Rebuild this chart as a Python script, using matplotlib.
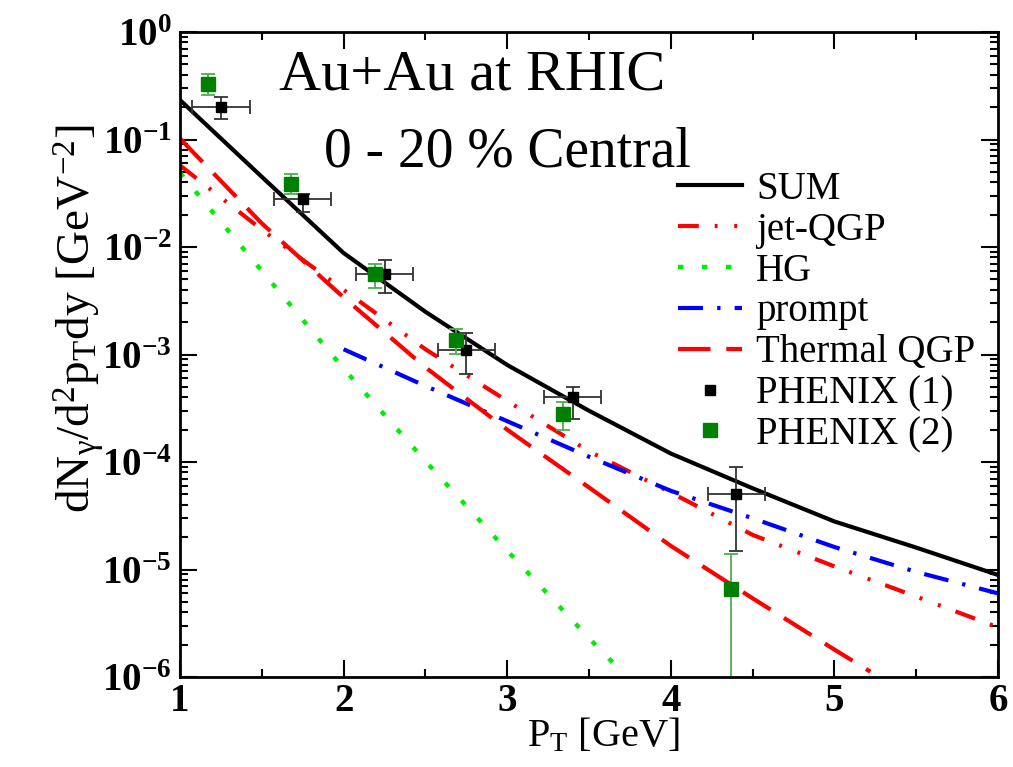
import matplotlib
matplotlib.use("Agg")
import matplotlib.pyplot as plt
from matplotlib.ticker import FixedLocator, FixedFormatter, LogLocator, NullFormatter
import numpy as np

plt.rcParams['font.family'] = ['Liberation Serif', 'DejaVu Serif']
plt.rcParams['mathtext.fontset'] = 'custom'
plt.rcParams['mathtext.rm'] = 'Liberation Serif'
plt.rcParams['mathtext.it'] = 'Liberation Serif:italic'
plt.rcParams['mathtext.bf'] = 'Liberation Serif:bold'

# model curves
x_sum = [1, 1.5, 2, 2.5, 3, 3.5, 4, 4.5, 5, 5.5, 6]
y_sum = [0.233, 0.045, 8.8e-3, 2.5e-3, 8.0e-4, 3.0e-4, 1.2e-4, 5.7e-5, 2.8e-5, 1.6e-5, 8.9e-6]

x_jet = [1, 1.5, 2, 2.5, 3, 3.5, 4, 4.5, 5, 5.5, 6]
y_jet = [0.0575, 0.0145, 4.0e-3, 1.12e-3, 3.7e-4, 1.26e-4, 5.2e-5, 2.1e-5, 1.07e-5, 5.6e-6, 2.9e-6]

x_hg = [1, 1.5, 2, 2.5, 3, 3.5, 3.66]
y_hg = [0.049, 6.0e-3, 7.4e-4, 1.02e-4, 1.5e-5, 2.3e-6, 1.29e-6]

x_prompt = [2, 2.5, 3, 3.5, 4, 4.5, 5, 5.5, 6]
y_prompt = [1.12e-3, 5.1e-4, 2.4e-4, 1.12e-4, 5.4e-5, 3.0e-5, 1.62e-5, 9.5e-6, 6.0e-6]

x_thermal = [1, 1.5, 2, 2.5, 3, 3.5, 4, 4.5, 5, 5.22]
y_thermal = [0.102, 0.0166, 3.4e-3, 7.6e-4, 2.0e-4, 5.8e-5, 1.66e-5, 5.4e-6, 1.8e-6, 1.12e-6]

# PHENIX data
x_ph1 = [1.25, 1.75, 2.25, 2.75, 3.40, 4.40]
y_ph1 = [0.20, 0.028, 5.6e-3, 1.1e-3, 4.0e-4, 5.0e-5]
ylo_ph1 = [0.155, 0.0214, 3.7e-3, 6.6e-4, 2.5e-4, 1.5e-5]
yhi_ph1 = [0.251, 0.031, 7.6e-3, 1.58e-3, 5.0e-4, 8.9e-5]
xerr_ph1 = [0.175, 0.175, 0.175, 0.175, 0.175, 0.175]

x_ph2 = [1.17, 1.68, 2.19, 2.69, 3.34, 4.37]
y_ph2 = [0.33, 0.039, 5.6e-3, 1.38e-3, 2.8e-4, 6.6e-6]
ylo_ph2 = [0.257, 0.031, 4.2e-3, 1.02e-3, 2.0e-4, 1e-7]
yhi_ph2 = [0.41, 0.048, 6.9e-3, 1.74e-3, 3.6e-4, 1.4e-5]

xticks = [1, 2, 3, 4, 5, 6]
yticks = [1e-6, 1e-5, 1e-4, 1e-3, 1e-2, 1e-1, 1]
ytick_labels = [r'$\mathbf{10^{-6}}$', r'$\mathbf{10^{-5}}$', r'$\mathbf{10^{-4}}$',
                r'$\mathbf{10^{-3}}$', r'$\mathbf{10^{-2}}$', r'$\mathbf{10^{-1}}$',
                r'$\mathbf{10^{0}}$']

fig = plt.figure(figsize=(10.13, 7.67), dpi=100)
ax = fig.add_axes([0.1777, 0.1173, 0.8075, 0.8409])

lw = 3.0
ax.plot(x_sum, y_sum, color='black', lw=3.0, label='SUM')
ax.plot(x_jet, y_jet, color='red', lw=lw, dashes=(5, 3.8, 0.7, 4, 0.7, 3.8), label='jet-QGP')
ax.plot(x_hg, y_hg, color='#00ee00', lw=3.2, dashes=(1.2, 4.2), label='HG')
ax.plot(x_prompt, y_prompt, color='blue', lw=lw, dashes=(6, 3.4, 0.8, 3.4), label='prompt')
ax.plot(x_thermal, y_thermal, color='red', lw=lw, dashes=(7.8, 3.8), label='Thermal QGP')

# error bars
y1 = np.array(y_ph1)
y2 = np.array(y_ph2)
ax.errorbar(x_ph1, y_ph1, xerr=xerr_ph1,
            yerr=[y1 - np.array(ylo_ph1), np.array(yhi_ph1) - y1],
            fmt='none', ecolor='#333333', elinewidth=1.3, capsize=5, capthick=1.3)
ax.errorbar(x_ph2, y_ph2,
            yerr=[y2 - np.array(ylo_ph2), np.array(yhi_ph2) - y2],
            fmt='none', ecolor='#4caf50', elinewidth=1.3, capsize=5, capthick=1.3)
ax.plot(x_ph1, y_ph1, ls='none', marker='s', ms=7, color='black', label='PHENIX (1)')
ax.plot(x_ph2, y_ph2, ls='none', marker='s', ms=10, color='#008000', label='PHENIX (2)')

ax.set_yscale('log')
ax.set_xlim(1, 6)
ax.set_ylim(1e-6, 1)

ax.xaxis.set_major_locator(FixedLocator(xticks))
ax.xaxis.set_minor_locator(FixedLocator([1.5, 2.5, 3.5, 4.5, 5.5]))
ax.yaxis.set_major_locator(FixedLocator(yticks))
ax.yaxis.set_major_formatter(FixedFormatter(ytick_labels))
ax.yaxis.set_minor_locator(LogLocator(base=10, subs=np.arange(2, 10), numticks=20))
ax.yaxis.set_minor_formatter(NullFormatter())

ax.tick_params(which='both', direction='in', top=True, right=True, width=1.5)
ax.tick_params(which='major', length=12, labelsize=28)
ax.tick_params(which='minor', length=6)
ax.tick_params(axis='x', which='major', pad=4)
ax.tick_params(axis='y', which='major', pad=6)
for lab in ax.get_xticklabels():
    lab.set_fontweight('bold')
for s in ax.spines.values():
    s.set_linewidth(2)

ax.set_xlabel(r'P$_{\mathrm{T}}$ [GeV]', fontsize=29)
ax.xaxis.set_label_coords(0.517, -0.062)
ax.set_ylabel(r'dN$_{\mathrm{\gamma}}$/d$^{2}$p$_{\mathrm{T}}$dy [GeV$^{-2}$]', fontsize=34)
ax.yaxis.set_label_coords(-0.09, 0.555)

ax.text(0.357, 0.933, 'Au+Au at RHIC', transform=ax.transAxes, fontsize=42,
        ha='center', va='center')
ax.text(0.40, 0.814, '0 - 20 % Central', transform=ax.transAxes, fontsize=40,
        ha='center', va='center')

ax.legend(loc='upper left', bbox_to_anchor=(0.609, 0.785), frameon=False,
          fontsize=28, handlelength=1.65, handletextpad=0.35, labelspacing=0.1,
          borderpad=0, borderaxespad=0, numpoints=1)

fig.savefig('out.png', dpi=100)
